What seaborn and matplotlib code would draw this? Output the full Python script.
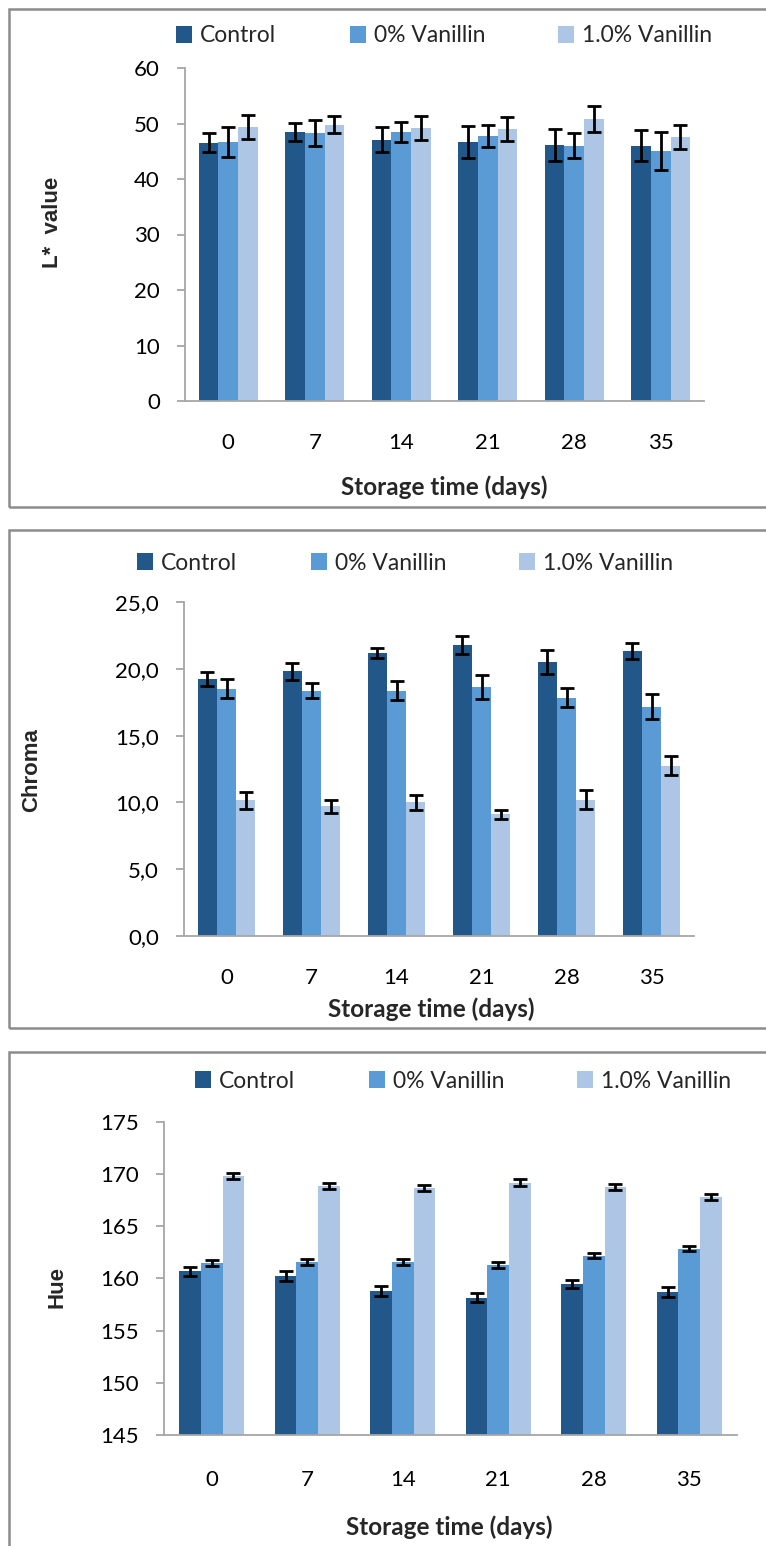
import numpy as np
import pandas as pd
import matplotlib
matplotlib.use("Agg")
import matplotlib.pyplot as plt
import seaborn as sns
from matplotlib.patches import Rectangle

# ---------------- data ----------------
days = ["0", "7", "14", "21", "28", "35"]
groups = ["Control", "0% Vanillin", "1.0% Vanillin"]
colors = ["#22578A", "#5B9BD5", "#ADC6E6"]

l_control = [46.5, 48.5, 47.1, 46.7, 46.1, 46.0]
l_van0 = [46.7, 48.3, 48.5, 47.8, 46.0, 45.1]
l_van1 = [49.4, 49.8, 49.2, 49.0, 50.8, 47.6]
l_control_sd = [1.7, 1.6, 2.3, 2.9, 2.9, 2.8]
l_van0_sd = [2.7, 2.4, 1.8, 2.0, 2.3, 3.4]
l_van1_sd = [2.2, 1.5, 2.1, 2.2, 2.4, 2.2]

chroma_control = [19.25, 19.8, 21.2, 21.8, 20.5, 21.3]
chroma_van0 = [18.5, 18.35, 18.35, 18.65, 17.85, 17.15]
chroma_van1 = [10.15, 9.7, 10.0, 9.1, 10.2, 12.75]
chroma_control_sd = [0.5, 0.62, 0.37, 0.67, 0.9, 0.6]
chroma_van0_sd = [0.7, 0.55, 0.72, 0.88, 0.7, 0.93]
chroma_van1_sd = [0.62, 0.47, 0.55, 0.35, 0.73, 0.73]

hue_control = [160.7, 160.25, 158.8, 158.15, 159.5, 158.7]
hue_van0 = [161.5, 161.6, 161.6, 161.3, 162.2, 162.85]
hue_van1 = [169.8, 168.9, 168.7, 169.2, 168.8, 167.8]
hue_control_sd = [0.45, 0.45, 0.45, 0.45, 0.4, 0.45]
hue_van0_sd = [0.26, 0.26, 0.26, 0.26, 0.26, 0.25]
hue_van1_sd = [0.3, 0.3, 0.3, 0.3, 0.28, 0.3]

l_ticks = [0, 10, 20, 30, 40, 50, 60]
l_ticklabels = ["0", "10", "20", "30", "40", "50", "60"]
chroma_ticks = [0, 5, 10, 15, 20, 25]
chroma_ticklabels = ["0,0", "5,0", "10,0", "15,0", "20,0", "25,0"]
hue_ticks = [145, 150, 155, 160, 165, 170, 175]
hue_ticklabels = ["145", "150", "155", "160", "165", "170", "175"]

xlabel = "Storage time (days)"

# ---------------- style ----------------
sns.set_style("white")
plt.rcParams["font.family"] = ["Lato", "DejaVu Sans"]

W, H = 766, 1546
fig = plt.figure(figsize=(W / 100, H / 100), dpi=100)

GRAY = "#A6A6A6"


def make_df(c, v0, v1):
    rows = []
    for g, vals in zip(groups, [c, v0, v1]):
        for d, v in zip(days, vals):
            rows.append({"day": d, "group": g, "value": v})
    return pd.DataFrame(rows)


def panel(box, axbox, c, v0, v1, sds, ylim, ticks, ticklabels, ylabel,
          ylabel_pos, xlab_pos, tick_dir, leg_pos, xtick_pad):
    bx0, by0, by1 = box
    fig.patches.append(Rectangle((bx0 / W, 1 - by1 / H), 1.2, (by1 - by0) / H,
                                 transform=fig.transFigure, fill=False,
                                 edgecolor="#8C8C8C", linewidth=1.8))
    l, r, t, b = axbox
    ax = fig.add_axes([l / W, 1 - b / H, (r - l) / W, (b - t) / H])
    df = make_df(c, v0, v1)
    sns.barplot(data=df, x="day", y="value", hue="group", order=days,
                hue_order=groups, palette=colors, width=0.68, errorbar=None,
                saturation=1, ax=ax, linewidth=0)
    for cont, sd in zip(ax.containers, sds):
        xs = [p.get_x() + p.get_width() / 2 for p in cont.patches]
        ys = [p.get_y() + p.get_height() for p in cont.patches]
        ax.errorbar(xs, ys, yerr=sd, fmt="none", ecolor="black",
                    elinewidth=2.0, capsize=5, capthick=2.0, zorder=5)
    ax.set_ylim(*ylim)
    ax.set_yticks(ticks)
    ax.set_yticklabels(ticklabels)
    ax.set_xlim(-0.5, len(days) - 0.5)
    ax.set_xticks(range(len(days)))
    ax.set_xticklabels(days)
    ax.set_xticks(np.arange(-0.5, len(days)), minor=True)
    ax.tick_params(axis="x", which="major", length=0, pad=xtick_pad,
                   labelsize=16, labelcolor="black")
    ax.tick_params(axis="x", which="minor", length=6, width=1.3,
                   color=GRAY, direction=tick_dir)
    ax.tick_params(axis="y", which="major", length=6, width=1.3, color=GRAY,
                   direction="out", pad=12, labelsize=16, labelcolor="black",
                   left=True)
    for s in ["top", "right"]:
        ax.spines[s].set_visible(False)
    for s in ["left", "bottom"]:
        ax.spines[s].set_color(GRAY)
        ax.spines[s].set_linewidth(1.3)
    ax.set_ylabel(ylabel, fontsize=16, fontweight="bold",
                  family=["Liberation Sans", "DejaVu Sans"])
    ax.yaxis.label.set_va("center")
    ax.yaxis.set_label_coords((ylabel_pos[0] - l) / (r - l),
                              (b - ylabel_pos[1]) / (b - t))
    ax.set_xlabel(xlabel, fontsize=17.5, fontweight="bold")
    ax.xaxis.label.set_va("center")
    ax.xaxis.set_label_coords((xlab_pos[0] - l) / (r - l),
                              (b - xlab_pos[1]) / (b - t))
    h, lab = ax.get_legend_handles_labels()
    if ax.get_legend() is not None:
        ax.get_legend().remove()
    ax.legend(h, lab, ncol=3, loc="center left",
              bbox_to_anchor=(leg_pos[0] / W, 1 - leg_pos[1] / H),
              bbox_transform=fig.transFigure, frameon=False,
              handlelength=0.7, handleheight=0.7, handletextpad=0.35,
              columnspacing=3.2, borderaxespad=0, borderpad=0, fontsize=16.5)
    return ax


panel((9, 9, 507), (185, 704, 68, 401), l_control, l_van0, l_van1,
      [l_control_sd, l_van0_sd, l_van1_sd], (0, 60), l_ticks, l_ticklabels,
      "L*  value", (53, 222), (444, 487), "out", (176, 36), 23)

panel((9, 530, 1028), (184, 694, 602, 936), chroma_control, chroma_van0,
      chroma_van1, [chroma_control_sd, chroma_van0_sd, chroma_van1_sd],
      (0, 25), chroma_ticks, chroma_ticklabels, "Chroma", (32, 770),
      (431, 1009), "out", (137, 563), 23)

panel((9, 1052, 1600), (164, 737, 1122, 1435), hue_control, hue_van0,
      hue_van1, [hue_control_sd, hue_van0_sd, hue_van1_sd], (145, 175),
      hue_ticks, hue_ticklabels, "Hue", (57, 1287), (449, 1527), "in",
      (195, 1081), 25)

fig.savefig("out.png", dpi=100)
